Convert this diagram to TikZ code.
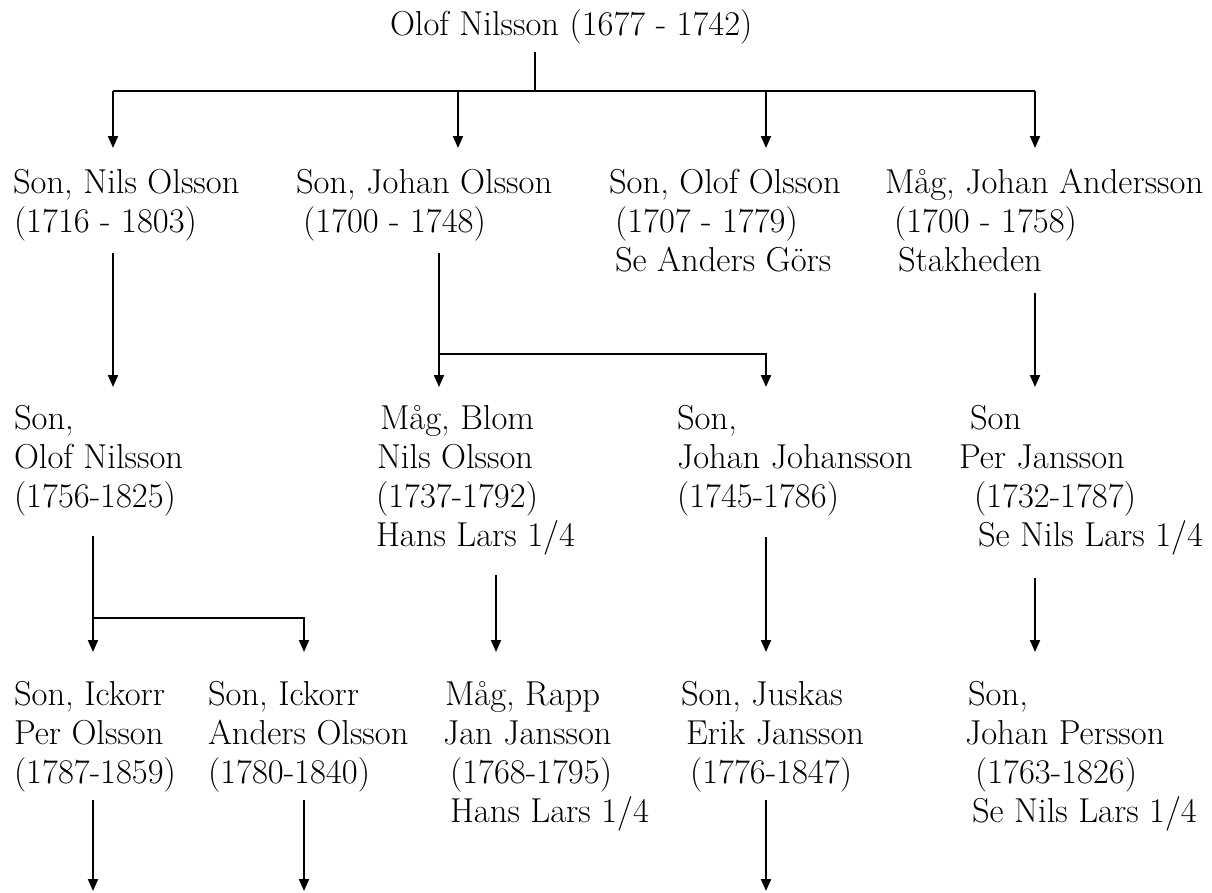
\documentclass[tikz,border=0pt]{standalone}
\usetikzlibrary{arrows.meta}
\newcommand\ppl[1]{\begin{tabular}[t]{@{}l@{}}#1\end{tabular}}
\newcommand\ind[1]{\hspace*{#1pt}}
\begin{document}
\begin{tikzpicture}[x=1pt,y=-1pt,
  pnode/.style={anchor=base west,inner sep=0pt,outer sep=0pt,font=\fontsize{34.6}{39}\selectfont},
  conn/.style={line width=2pt},
  arr/.style={line width=2pt,-{Triangle[length=12pt,width=10pt]}}]
\useasboundingbox (0,0) rectangle (1212,892);
% title
\node[pnode] (root) at (390,35) {\ppl{Olof Nilsson (1677 - 1742)}};
% row 1
\node[pnode] (n1) at (13,193) {\ppl{Son, Nils Olsson\\\ind{1}(1716 - 1803)}};
\node[pnode] (j1) at (296,193) {\ppl{Son, Johan Olsson\\\ind{7}(1700 - 1748)}};
\node[pnode] (o1) at (609,193) {\ppl{Son, Olof Olsson\\\ind{6}(1707 - 1779)\\\ind{6}Se Anders G\"ors}};
\node[pnode] (m1) at (885,193) {\ppl{M\aa g, Johan Andersson\\\ind{9}(1700 - 1758)\\\ind{13}Stakheden}};
% row 2
\node[pnode] (n2) at (14,429) {\ppl{Son,\\Olof Nilsson\\(1756-1825)}};
\node[pnode] (b2) at (376,429) {\ppl{\ind{4}M\aa g, Blom\\\ind{1}Nils Olsson\\(1737-1792)\\Hans Lars 1/4}};
\node[pnode] (jj2) at (677,429) {\ppl{Son,\\Johan Johansson\\(1745-1786)}};
\node[pnode] (pj2) at (959,429) {\ppl{\ind{11}Son\\Per Jansson\\\ind{15}(1732-1787)\\\ind{19}Se Nils Lars 1/4}};
% row 3
\node[pnode] (po3) at (14,705) {\ppl{Son, Ickorr\\Per Olsson\\(1787-1859)}};
\node[pnode] (ao3) at (208,705) {\ppl{Son, Ickorr\\Anders Olsson\\(1780-1840)}};
\node[pnode] (jr3) at (443,705) {\ppl{\ind{2}M\aa g, Rapp\\Jan Jansson\\\ind{7}(1768-1795)\\\ind{7}Hans Lars 1/4}};
\node[pnode] (ej3) at (681,705) {\ppl{Son, Juskas\\\ind{5}Erik Jansson\\\ind{9}(1776-1847)}};
\node[pnode] (jp3) at (965,705) {\ppl{\ind{3}Son,\\Johan Persson\\\ind{10}(1763-1826)\\\ind{7}Se Nils Lars 1/4}};
% connector points
\coordinate (rs) at (535,52);
\coordinate (rj) at (535,91);
\coordinate (h1l) at (113,91);
\coordinate (h1r) at (1035,91);
\coordinate (n1t) at (113,148);
\coordinate (j1t) at (458,148);
\coordinate (o1t) at (766,148);
\coordinate (m1t) at (1035,148);
\coordinate (n1b) at (113,253);
\coordinate (n2t) at (113,387);
\coordinate (j1b) at (439,253);
\coordinate (jh) at (439,354);
\coordinate (jhr) at (766,354);
\coordinate (b2t) at (439,387);
\coordinate (jj2t) at (766,387);
\coordinate (m1b) at (1035,293);
\coordinate (pj2t) at (1035,387);
\coordinate (n2b) at (93,536);
\coordinate (nh) at (93,618);
\coordinate (nhr) at (304,618);
\coordinate (po3t) at (93,652);
\coordinate (ao3t) at (304,652);
\coordinate (b2b) at (496,575);
\coordinate (jr3t) at (496,652);
\coordinate (jj2b) at (766,537);
\coordinate (ej3t) at (766,652);
\coordinate (pj2b) at (1035,578);
\coordinate (jp3t) at (1035,652);
\coordinate (po3b) at (93,800);
\coordinate (po3e) at (93,891);
\coordinate (ao3b) at (304,800);
\coordinate (ao3e) at (304,891);
\coordinate (ej3b) at (766,800);
\coordinate (ej3e) at (766,891);
% connectors
\draw[conn] (rs) -- (rj);
\draw[conn] (h1l) -- (h1r);
\draw[arr] (h1l) -- (n1t);
\draw[arr] (j1t |- rj) -- (j1t);
\draw[arr] (o1t |- rj) -- (o1t);
\draw[arr] (h1r) -- (m1t);
\draw[arr] (n1b) -- (n2t);
\draw[arr] (j1b) -- (b2t);
\draw[arr] (jh) -- (jhr) -- (jj2t);
\draw[arr] (m1b) -- (pj2t);
\draw[arr] (n2b) -- (po3t);
\draw[arr] (nh) -- (nhr) -- (ao3t);
\draw[arr] (b2b) -- (jr3t);
\draw[arr] (jj2b) -- (ej3t);
\draw[arr] (pj2b) -- (jp3t);
\draw[arr] (po3b) -- (po3e);
\draw[arr] (ao3b) -- (ao3e);
\draw[arr] (ej3b) -- (ej3e);
\end{tikzpicture}
\end{document}
